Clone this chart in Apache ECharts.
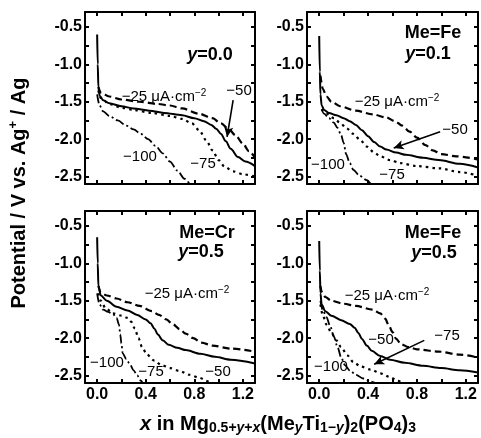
<!DOCTYPE html>
<html>
<head>
<meta charset="utf-8">
<script src="https://cdn.jsdelivr.net/npm/echarts@6/dist/echarts.min.js"></script>
<style>
html,body{margin:0;padding:0;background:#fff;}
#c{width:481px;height:438px;}
</style>
</head>
<body>
<div id="c"></div>
<script>
// ---- tick values ----
const xTickLabels = [0.0, 0.4, 0.8, 1.2];
const xTicks = [0.0, 0.2, 0.4, 0.6, 0.8, 1.0, 1.2];
const yTickLabels = [-0.5, -1.0, -1.5, -2.0, -2.5];
const yTicks = [-0.5, -0.75, -1.0, -1.25, -1.5, -1.75, -2.0, -2.25, -2.5];
const currents = ['-25', '-50', '-75', '-100'];

// ---- Panel 1: y=0.0 ----
const p1_25 = [[0.01,-1.3],[0.03,-1.38],[0.1,-1.43],[0.2,-1.47],[0.35,-1.5],[0.5,-1.53],[0.6,-1.55],[0.7,-1.59],[0.84,-1.66],[0.95,-1.72],[1.02,-1.79],[1.08,-1.86],[1.14,-1.95],[1.2,-2.06],[1.25,-2.16],[1.3,-2.25]];
const p1_50 = [[0.0,-0.6],[0.005,-1.0],[0.01,-1.3],[0.02,-1.42],[0.05,-1.48],[0.1,-1.52],[0.2,-1.56],[0.3,-1.59],[0.43,-1.62],[0.55,-1.65],[0.7,-1.68],[0.8,-1.72],[0.88,-1.76],[0.94,-1.81],[0.98,-1.86],[1.02,-1.93],[1.06,-2.03],[1.1,-2.13],[1.16,-2.24],[1.22,-2.3],[1.3,-2.36]];
const p1_75 = [[0.01,-1.35],[0.03,-1.45],[0.1,-1.53],[0.2,-1.58],[0.3,-1.61],[0.45,-1.65],[0.6,-1.69],[0.7,-1.73],[0.78,-1.79],[0.84,-1.88],[0.9,-2.02],[0.95,-2.15],[1.0,-2.28],[1.05,-2.37],[1.12,-2.43],[1.2,-2.47],[1.3,-2.5]];
const p1_100 = [[0.0,-1.4],[0.02,-1.55],[0.05,-1.63],[0.1,-1.69],[0.17,-1.75],[0.24,-1.82],[0.3,-1.87],[0.36,-1.93],[0.42,-2.0],[0.48,-2.09],[0.54,-2.19],[0.6,-2.3],[0.66,-2.42],[0.72,-2.53],[0.77,-2.62]];
const p1_arrow = [[1.12,-1.48],[1.07,-1.97]];

// ---- Panel 2: Me=Fe y=0.1 ----
const p2_25 = [[0.01,-1.15],[0.03,-1.33],[0.06,-1.43],[0.1,-1.5],[0.17,-1.56],[0.3,-1.62],[0.44,-1.67],[0.55,-1.71],[0.62,-1.76],[0.68,-1.82],[0.74,-1.9],[0.8,-1.98],[0.87,-2.08],[0.93,-2.15],[1.0,-2.2],[1.12,-2.23],[1.3,-2.27]];
const p2_50 = [[0.0,-0.62],[0.005,-1.1],[0.01,-1.4],[0.02,-1.55],[0.04,-1.61],[0.08,-1.65],[0.14,-1.68],[0.2,-1.72],[0.25,-1.76],[0.3,-1.81],[0.35,-1.88],[0.4,-1.96],[0.45,-2.04],[0.5,-2.1],[0.55,-2.14],[0.63,-2.18],[0.71,-2.21],[0.85,-2.25],[0.98,-2.28],[1.15,-2.33],[1.3,-2.38]];
const p2_75 = [[0.02,-1.6],[0.06,-1.66],[0.12,-1.72],[0.17,-1.78],[0.22,-1.85],[0.28,-1.93],[0.34,-2.02],[0.39,-2.1],[0.45,-2.18],[0.5,-2.23],[0.58,-2.28],[0.66,-2.32],[0.8,-2.36],[0.98,-2.39],[1.15,-2.44],[1.3,-2.49]];
const p2_100 = [[0.02,-1.6],[0.04,-1.66],[0.08,-1.72],[0.12,-1.78],[0.15,-1.85],[0.18,-1.95],[0.2,-2.05],[0.22,-2.2],[0.25,-2.32],[0.28,-2.41],[0.33,-2.49],[0.39,-2.55],[0.43,-2.62]];
const p2_arrow = [[0.99,-1.9],[0.61,-2.12]];

// ---- Panel 3: Me=Cr y=0.5 ----
const p3_25 = [[0.01,-1.3],[0.03,-1.39],[0.08,-1.43],[0.16,-1.47],[0.25,-1.52],[0.35,-1.57],[0.45,-1.64],[0.51,-1.69],[0.57,-1.75],[0.62,-1.81],[0.68,-1.88],[0.73,-1.94],[0.79,-2.0],[0.86,-2.06],[0.95,-2.1],[1.1,-2.14],[1.3,-2.18]];
const p3_50 = [[0.0,-0.65],[0.005,-1.0],[0.01,-1.3],[0.03,-1.43],[0.08,-1.5],[0.16,-1.58],[0.25,-1.63],[0.33,-1.69],[0.4,-1.75],[0.44,-1.8],[0.47,-1.87],[0.5,-1.95],[0.54,-2.03],[0.59,-2.09],[0.66,-2.13],[0.73,-2.16],[0.85,-2.21],[0.97,-2.25],[1.1,-2.29],[1.3,-2.34]];
const p3_75 = [[0.01,-1.4],[0.03,-1.5],[0.07,-1.6],[0.13,-1.67],[0.2,-1.7],[0.25,-1.73],[0.28,-1.78],[0.31,-1.87],[0.34,-2.0],[0.37,-2.12],[0.41,-2.22],[0.47,-2.3],[0.53,-2.36],[0.6,-2.4],[0.68,-2.44],[0.76,-2.49],[0.84,-2.53],[0.92,-2.58],[0.96,-2.62]];
const p3_100 = [[0.0,-1.4],[0.02,-1.55],[0.05,-1.62],[0.09,-1.65],[0.13,-1.68],[0.16,-1.73],[0.18,-1.82],[0.19,-1.95],[0.2,-2.07],[0.21,-2.2],[0.24,-2.28],[0.27,-2.35],[0.3,-2.43],[0.33,-2.5],[0.36,-2.57],[0.38,-2.62]];

// ---- Panel 4: Me=Fe y=0.5 ----
const p4_25 = [[0.01,-1.3],[0.02,-1.38],[0.05,-1.45],[0.1,-1.5],[0.2,-1.54],[0.3,-1.57],[0.44,-1.62],[0.5,-1.67],[0.54,-1.74],[0.57,-1.83],[0.6,-1.92],[0.63,-2.01],[0.67,-2.08],[0.73,-2.12],[0.8,-2.15],[0.98,-2.18],[1.15,-2.22],[1.3,-2.26]];
const p4_50 = [[0.0,-0.7],[0.005,-1.1],[0.01,-1.4],[0.02,-1.55],[0.05,-1.64],[0.1,-1.7],[0.18,-1.76],[0.25,-1.81],[0.29,-1.86],[0.32,-1.93],[0.35,-2.01],[0.39,-2.1],[0.43,-2.17],[0.5,-2.24],[0.58,-2.29],[0.7,-2.33],[0.85,-2.37],[1.0,-2.4],[1.15,-2.43],[1.3,-2.46]];
const p4_75 = [[0.01,-1.55],[0.03,-1.7],[0.06,-1.82],[0.1,-1.93],[0.14,-2.03],[0.18,-2.12],[0.23,-2.23],[0.28,-2.32],[0.34,-2.38],[0.42,-2.42],[0.5,-2.47],[0.58,-2.52],[0.64,-2.57],[0.7,-2.62]];
const p4_100 = [[0.01,-1.5],[0.03,-1.63],[0.06,-1.72],[0.09,-1.84],[0.12,-1.98],[0.15,-2.12],[0.18,-2.26],[0.21,-2.36],[0.25,-2.43],[0.3,-2.49],[0.36,-2.54],[0.42,-2.58],[0.48,-2.62]];
const p4_arrow = [[0.86,-2.03],[0.45,-2.35]];

const FONT = '"Liberation Sans", Arial, Helvetica, sans-serif';
const grids = [
  {left: 85, top: 12, width: 170, height: 172},
  {left: 307, top: 12, width: 171, height: 172},
  {left: 85, top: 211, width: 170, height: 172},
  {left: 307, top: 211, width: 171, height: 172}
];

const xAxes = [], yAxes = [];
grids.forEach((g, i) => {
  const bottomRow = i >= 2;
  const common = {
    gridIndex: i, type: 'value', min: -0.1, max: 1.3,
    axisLine: {show: true, onZero: false, lineStyle: {color: '#000', width: 2}},
    axisTick: {show: true, inside: true, length: 4, customValues: xTicks, lineStyle: {color: '#000', width: 2}},
    splitLine: {show: false}
  };
  xAxes.push(Object.assign({}, common, {
    position: 'bottom',
    axisLabel: {show: bottomRow, customValues: xTickLabels, formatter: v => v.toFixed(1),
      color: '#000', fontFamily: FONT, fontWeight: 'bold', fontSize: 16, margin: 4}
  }));
  xAxes.push(Object.assign({}, common, {position: 'top', axisLabel: {show: false}}));
  const ycommon = {
    gridIndex: i, type: 'value', min: -2.6, max: -0.3,
    axisLine: {show: true, onZero: false, lineStyle: {color: '#000', width: 2}},
    axisTick: {show: true, inside: true, length: 4, customValues: yTicks, lineStyle: {color: '#000', width: 2}},
    splitLine: {show: false}
  };
  yAxes.push(Object.assign({}, ycommon, {
    position: 'left',
    axisLabel: {show: true, customValues: yTickLabels, formatter: v => v.toFixed(1),
      color: '#000', fontFamily: FONT, fontWeight: 'bold', fontSize: 16, margin: 3}
  }));
  yAxes.push(Object.assign({}, ycommon, {position: 'right', axisLabel: {show: false}}));
});

const styles = {
  '-25': {type: [7, 4], width: 2.2},
  '-50': {type: 'solid', width: 2},
  '-75': {type: [2.5, 4], width: 2.2},
  '-100': {type: [9, 3, 2, 3], width: 1.8}
};

const panels = [
  {d: [p1_25, p1_50, p1_75, p1_100], arrow: p1_arrow},
  {d: [p2_25, p2_50, p2_75, p2_100], arrow: p2_arrow},
  {d: [p3_25, p3_50, p3_75, p3_100], arrow: null},
  {d: [p4_25, p4_50, p4_75, p4_100], arrow: p4_arrow}
];

const series = [];
panels.forEach((p, i) => {
  p.d.forEach((data, k) => {
    const cur = currents[k];
    const s = {
      type: 'line', name: cur, data: data,
      xAxisIndex: i * 2, yAxisIndex: i * 2,
      showSymbol: false, symbol: 'none', smooth: 0.3, smoothMonotone: 'x',
      clip: true,
      lineStyle: Object.assign({color: '#000'}, styles[cur]),
      z: 3
    };
    if (k === 1 && p.arrow) {
      s.markLine = {
        silent: true, symbol: ['none', 'arrow'], symbolSize: [7, 10],
        label: {show: false},
        lineStyle: {color: '#000', width: 1.6, type: 'solid'},
        data: [[{coord: p.arrow[0]}, {coord: p.arrow[1]}]]
      };
    }
    series.push(s);
  });
});

const rich = {
  n: {fontFamily: FONT, fontSize: 15, color: '#000'},
  sp: {fontFamily: FONT, fontSize: 10, color: '#000', verticalAlign: 'top', padding: [0, 0, 8, 0]},
  b: {fontFamily: FONT, fontSize: 18, fontWeight: 'bold', color: '#000'},
  bi: {fontFamily: FONT, fontSize: 18, fontWeight: 'bold', fontStyle: 'italic', color: '#000'}
};
function txt(x, y, text, extra) {
  return Object.assign({
    type: 'text', x: x, y: y, z: 10,
    style: {text: text, rich: rich, align: 'center', verticalAlign: 'middle',
      font: '15px ' + FONT, fill: '#000'}
  }, extra || {});
}
const cdStr = '{n|−25 μA·cm}{sp|−2}';
const graphic = [
  // panel 1
  txt(210, 55, '{bi|y}{b|=0.0}'),
  txt(164, 97, cdStr),
  txt(239, 91, '{n|−50}'),
  txt(140, 157, '{n|−100}'),
  txt(203, 164, '{n|−75}'),
  // panel 2
  txt(433, 33, '{b|Me=Fe}'),
  txt(428, 54, '{bi|y}{b|=0.1}'),
  txt(397, 102, cdStr),
  txt(455, 130, '{n|−50}'),
  txt(328, 165, '{n|−100}'),
  txt(392, 175, '{n|−75}'),
  // panel 3
  txt(207, 233, '{b|Me=Cr}'),
  txt(201, 252, '{bi|y}{b|=0.5}'),
  txt(187, 294, cdStr),
  txt(107, 363, '{n|−100}'),
  txt(151, 372, '{n|−75}'),
  txt(218, 372, '{n|−50}'),
  // panel 4
  txt(433, 233, '{b|Me=Fe}'),
  txt(434, 253, '{bi|y}{b|=0.5}'),
  txt(387, 296, cdStr),
  txt(381, 340, '{n|−50}'),
  txt(447, 336, '{n|−75}'),
  txt(331, 367, '{n|−100}'),
  // axis titles
  {
    type: 'text', x: 19, y: 193, rotation: Math.PI / 2, z: 10,
    style: {
      text: '{t|Potential / V vs. Ag}{s|+}{t| / Ag}',
      align: 'center', verticalAlign: 'middle',
      rich: {
        t: {fontFamily: FONT, fontSize: 20, fontWeight: 'bold', color: '#000'},
        s: {fontFamily: FONT, fontSize: 13, fontWeight: 'bold', color: '#000', verticalAlign: 'top', padding: [0, 0, 12, 0]}
      }
    }
  },
  {
    type: 'text', x: 278, y: 424, z: 10,
    style: {
      text: '{i|x}{t| in Mg}{u|0.5+}{ui|y}{u|+}{ui|x}{t|(Me}{ui|y}{t|Ti}{u|1−}{ui|y}{t|)}{u|2}{t|(PO}{u|4}{t|)}{u|3}',
      align: 'center', verticalAlign: 'middle',
      rich: {
        t: {fontFamily: FONT, fontSize: 20, fontWeight: 'bold', color: '#000'},
        i: {fontFamily: FONT, fontSize: 20, fontWeight: 'bold', fontStyle: 'italic', color: '#000'},
        u: {fontFamily: FONT, fontSize: 14, fontWeight: 'bold', color: '#000', verticalAlign: 'bottom', padding: [9, 0, 0, 0]},
        ui: {fontFamily: FONT, fontSize: 14, fontWeight: 'bold', fontStyle: 'italic', color: '#000', verticalAlign: 'bottom', padding: [9, 0, 0, 0]}
      }
    }
  }
];

const chart = echarts.init(document.getElementById('c'), null, {renderer: 'canvas'});
chart.setOption({
  animation: false,
  backgroundColor: '#fff',
  grid: grids,
  xAxis: xAxes,
  yAxis: yAxes,
  series: series,
  graphic: graphic
});
</script>
</body>
</html>
